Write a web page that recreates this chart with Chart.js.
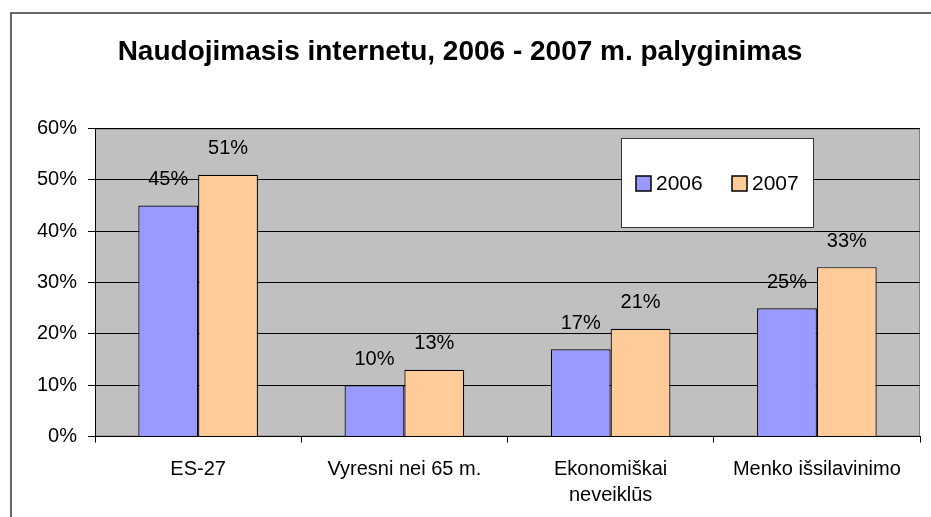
<!DOCTYPE html>
<html>
<head>
<meta charset="utf-8">
<script src="https://cdn.jsdelivr.net/npm/chart.js@4.4.1/dist/chart.umd.min.js"></script>
<style>
  html, body { margin: 0; padding: 0; background: #fff; }
  #wrap { width: 931px; height: 517px; position: relative; }
</style>
</head>
<body>
<div id="wrap"><canvas id="c" width="931" height="517"></canvas></div>
<script>
const titleText = 'Naudojimasis internetu, 2006 - 2007 m. palyginimas';
const categories = ['ES-27', 'Vyresni nei 65 m.', ['Ekonomiškai', 'neveiklūs'], 'Menko išsilavinimo'];
const seriesNames = ['2006', '2007'];
const values2006 = [45, 10, 17, 25];
const values2007 = [51, 13, 21, 33];
const yTicks = [0, 10, 20, 30, 40, 50, 60];

const FONT = '"Liberation Sans", Arial, sans-serif';

const framePlugin = {
  id: 'frame',
  beforeDraw(chart) {
    const { ctx, chartArea: a } = chart;
    ctx.save();
    ctx.fillStyle = '#ffffff';
    ctx.fillRect(0, 0, chart.width, chart.height);
    ctx.strokeStyle = '#333333';
    ctx.lineWidth = 1.5;
    ctx.beginPath();
    ctx.moveTo(11, chart.height + 5);
    ctx.lineTo(11, 13);
    ctx.lineTo(chart.width + 5, 13);
    ctx.stroke();
    ctx.fillStyle = '#C0C0C0';
    ctx.fillRect(a.left, a.top, a.right - a.left, a.bottom - a.top);
    ctx.strokeStyle = '#808080';
    ctx.lineWidth = 1;
    ctx.strokeRect(a.left + 0.5, a.top + 0.5, a.right - a.left - 1, a.bottom - a.top - 1);
    ctx.restore();
  }
};

const labelPlugin = {
  id: 'valueLabels',
  afterDatasetsDraw(chart) {
    const { ctx } = chart;
    ctx.save();
    ctx.font = '20px ' + FONT;
    ctx.fillStyle = '#000';
    ctx.textAlign = 'center';
    ctx.textBaseline = 'middle';
    chart.data.datasets.forEach((ds, i) => {
      chart.getDatasetMeta(i).data.forEach((el, j) => {
        ctx.fillText(ds.data[j] + '%', el.x, el.y - 26);
      });
    });
    ctx.restore();
  }
};

const legendPlugin = {
  id: 'boxLegend',
  afterDraw(chart) {
    const { ctx } = chart;
    const bx = 621, by = 138, bw = 192, bh = 89;
    ctx.save();
    ctx.fillStyle = '#fff';
    ctx.fillRect(bx, by, bw, bh);
    ctx.strokeStyle = '#333';
    ctx.lineWidth = 1;
    ctx.strokeRect(bx + 0.5, by + 0.5, bw, bh);
    ctx.font = '21px ' + FONT;
    ctx.textBaseline = 'middle';
    ctx.textAlign = 'left';
    const xs = [636, 732];
    chart.data.datasets.forEach((ds, i) => {
      const x = xs[i], cy = 183;
      ctx.fillStyle = ds.backgroundColor;
      ctx.fillRect(x, cy - 7, 15, 15);
      ctx.strokeStyle = '#000';
      ctx.lineWidth = 1.5;
      ctx.strokeRect(x, cy - 7, 15, 15);
      ctx.fillStyle = '#000';
      ctx.fillText(ds.label, x + 20, cy + 1);
    });
    ctx.restore();
  }
};

new Chart(document.getElementById('c'), {
  type: 'bar',
  data: {
    labels: categories,
    datasets: [
      { label: seriesNames[0], data: values2006, backgroundColor: '#9999FF', borderColor: '#000', borderWidth: 1.2 },
      { label: seriesNames[1], data: values2007, backgroundColor: '#FFCC99', borderColor: '#000', borderWidth: 1.2 }
    ]
  },
  options: {
    responsive: false,
    animation: false,
    events: [],
    layout: { padding: { left: 0, right: 11, top: 0, bottom: 0 } },
    datasets: { bar: { categoryPercentage: 0.58, barPercentage: 1.0 } },
    plugins: {
      legend: { display: false },
      tooltip: { enabled: false },
      title: {
        display: true,
        text: titleText,
        color: '#000',
        font: { family: FONT, size: 28, weight: 'bold', lineHeight: 1.2 },
        padding: { top: 35, bottom: 60 }
      }
    },
    scales: {
      x: {
        grid: { offset: true, drawOnChartArea: false, drawTicks: true, tickLength: 6, color: '#000', lineWidth: 1 },
        border: { color: '#000', width: 1 },
        ticks: { color: '#000', font: { family: FONT, size: 20, lineHeight: 1.3 }, padding: 14, maxRotation: 0, autoSkip: false },
        afterFit(scale) { scale.height = 80.5; }
      },
      y: {
        min: yTicks[0],
        max: yTicks[yTicks.length - 1],
        afterBuildTicks(scale) { scale.ticks = yTicks.map(v => ({ value: v })); },
        grid: { color: '#000', lineWidth: 1, tickLength: 7, drawTicks: true },
        border: { color: '#000', width: 1 },
        ticks: { color: '#000', font: { family: FONT, size: 20 }, padding: 11, callback: v => v + '%' },
        afterFit(scale) { scale.width = 95; }
      }
    }
  },
  plugins: [framePlugin, labelPlugin, legendPlugin]
});
</script>
</body>
</html>
